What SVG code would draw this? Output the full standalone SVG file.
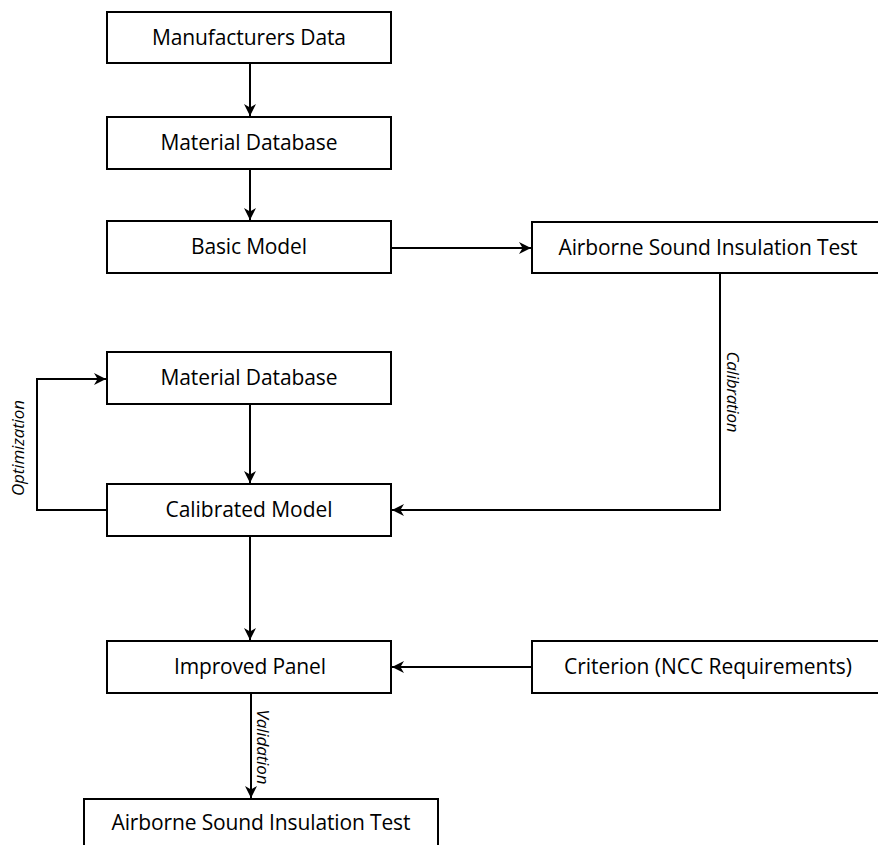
<svg xmlns="http://www.w3.org/2000/svg" width="878" height="845" viewBox="0 0 878 845">
<style>
.box{fill:#fff;stroke:#000;stroke-width:2}
.lbl{font-family:"Open Sans","Liberation Sans",sans-serif;font-size:21px;fill:#000;text-anchor:middle}
.edge{fill:none;stroke:#000;stroke-width:2}
.el{font-family:"Open Sans","Liberation Sans",sans-serif;font-size:17px;font-style:italic;fill:#000;text-anchor:middle}
</style>
<defs>
<marker id="arr" markerWidth="12" markerHeight="12" refX="10" refY="5" orient="auto" markerUnits="userSpaceOnUse" viewBox="0 0 10 10">
<path d="M0,0 L10,5 L0,10 L3,5 z" fill="#000"/>
</marker>
</defs>
<rect width="878" height="845" fill="#fff"/>
<g id="connectors">
<path class="edge" d="M250,63 V116" marker-end="url(#arr)"/>
<path class="edge" d="M250,169 V220" marker-end="url(#arr)"/>
<path class="edge" d="M391,248 H531" marker-end="url(#arr)"/>
<path class="edge" d="M720,273 V510 H392" marker-end="url(#arr)"/>
<text class="el" transform="translate(727,392) rotate(90)" textLength="81">Calibration</text>
<path class="edge" d="M107,510 H37 V379 H106" marker-end="url(#arr)"/>
<text class="el" transform="translate(24,448) rotate(-90)" textLength="96">Optimization</text>
<path class="edge" d="M250,404 V483" marker-end="url(#arr)"/>
<path class="edge" d="M250,536 V640" marker-end="url(#arr)"/>
<path class="edge" d="M532,667 H392" marker-end="url(#arr)"/>
<path class="edge" d="M251,693 V798" marker-end="url(#arr)"/>
<text class="el" transform="translate(257,747) rotate(90)" textLength="75">Validation</text>
</g>
<g id="n1"><rect class="box" x="107" y="12" width="284" height="51"/><text class="lbl" x="249" y="45" textLength="194">Manufacturers Data</text></g>
<g id="n2"><rect class="box" x="107" y="117" width="284" height="52"/><text class="lbl" x="249" y="150" textLength="177">Material Database</text></g>
<g id="n3"><rect class="box" x="107" y="221" width="284" height="52"/><text class="lbl" x="249" y="254" textLength="116">Basic Model</text></g>
<g id="n4"><rect class="box" x="532" y="222" width="352" height="51"/><text class="lbl" x="708" y="255" textLength="299">Airborne Sound Insulation Test</text></g>
<g id="n5"><rect class="box" x="107" y="352" width="284" height="52"/><text class="lbl" x="249" y="385" textLength="177">Material Database</text></g>
<g id="n6"><rect class="box" x="107" y="484" width="284" height="52"/><text class="lbl" x="249" y="517" textLength="167">Calibrated Model</text></g>
<g id="n7"><rect class="box" x="107" y="641" width="284" height="52"/><text class="lbl" x="250" y="674" textLength="152">Improved Panel</text></g>
<g id="n8"><rect class="box" x="532" y="641" width="352" height="52"/><text class="lbl" x="708" y="674" textLength="288">Criterion (NCC Requirements)</text></g>
<g id="n9"><rect class="box" x="84" y="799" width="354" height="60"/><text class="lbl" x="261" y="830" textLength="299">Airborne Sound Insulation Test</text></g>
</svg>
